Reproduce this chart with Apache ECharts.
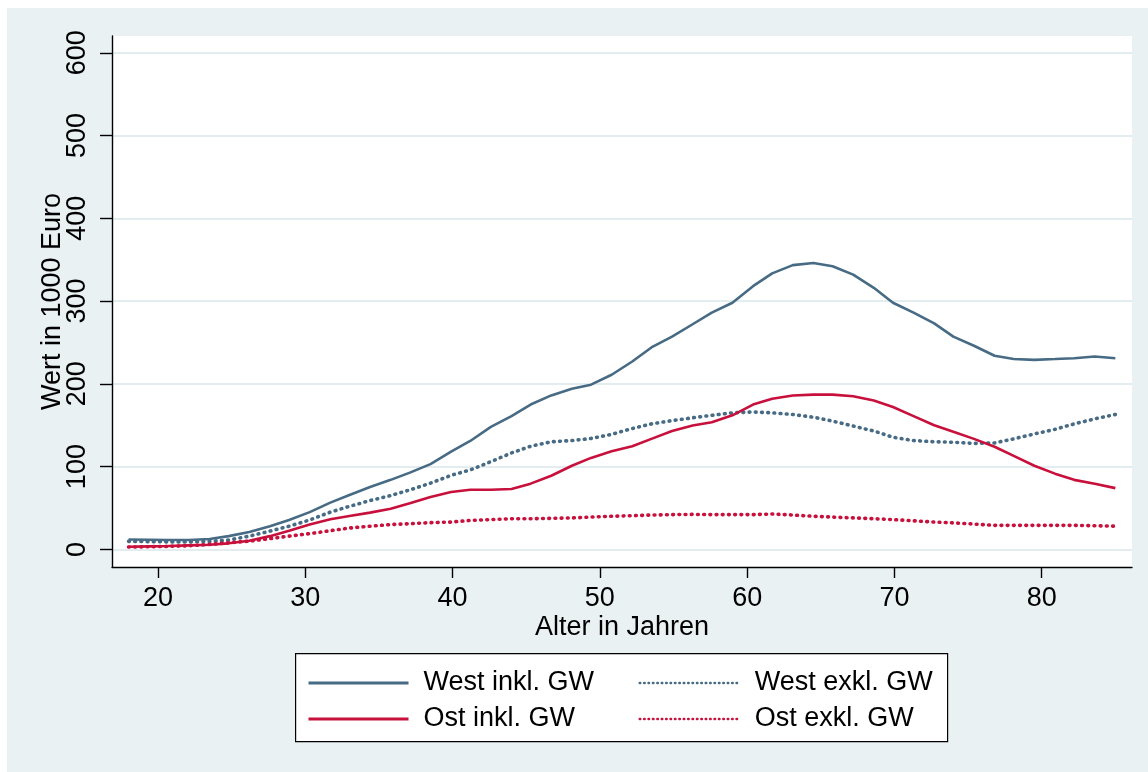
<!DOCTYPE html>
<html>
<head>
<meta charset="utf-8">
<script src="https://cdn.jsdelivr.net/npm/echarts@6/dist/echarts.min.js"></script>
<style>
html,body{margin:0;padding:0;background:#ffffff;}
#chart{width:1148px;height:772px;}
</style>
</head>
<body>
<div id="chart"></div>
<script>
// ---- data ----
const ages = [18, 19.4, 20.7, 22.1, 23.5, 24.8, 26.2, 27.6, 28.9, 30.3, 31.7, 33.0, 34.4, 35.8, 37.1, 38.5, 39.9,
  41.2, 42.6, 44.0, 45.3, 46.7, 48.1, 49.4, 50.8, 52.2, 53.5, 54.9, 56.3, 57.6, 59.0, 60.4, 61.7, 63.1,
  64.5, 65.8, 67.2, 68.6, 69.9, 71.3, 72.7, 74.0, 75.4, 76.8, 78.1, 79.5, 80.9, 82.2, 83.6, 85.0];
const westInkl = [12, 11.7, 11.3, 11.3, 12.5, 16, 21, 28, 35.5, 45, 56.5, 65.7, 75.4, 84, 92.7, 103, 118,
  131, 148, 161, 175, 186, 194, 199, 211, 227, 244, 257, 272, 286, 298, 318, 333.5, 343.5,
  346, 342, 332, 316, 298, 286, 273, 257, 246, 234, 230, 229, 230, 231, 233, 231];
const westExkl = [9.7, 9.3, 9, 9, 9.7, 11.3, 16, 22, 28, 35.5, 45, 52, 59, 65, 71.8, 80, 89.5,
  96, 106, 116.5, 124.6, 130, 131.5, 134, 139, 146, 151.6, 155.6, 159, 162, 165, 166, 165, 163,
  159.7, 155, 149, 143, 135.5, 131.5, 130, 129.4, 128, 128.6, 133.5, 139.5, 145, 151.6, 157.7, 163];
const ostInkl = [3.2, 3.6, 4, 4.8, 5.6, 7.3, 10.5, 16, 22.6, 30, 36.3, 40.3, 44.4, 49, 55.6, 63.3, 69.4,
  72, 72, 73, 79.4, 89, 101, 110.5, 118.5, 124.6, 133.5, 143, 149.6, 153.6, 162, 175, 182, 186,
  187, 187, 185, 180, 172, 161, 150, 142, 133.5, 124, 113, 101, 91.5, 84, 79.4, 74];
const ostExkl = [2.8, 3.2, 3.6, 4.4, 6, 8, 10, 13, 16, 19, 22.6, 25.8, 28, 30, 31, 32.3, 33,
  35, 36, 37, 37, 37.5, 38, 39, 40, 40.7, 41.5, 42, 42.3, 42, 42, 42, 42.7, 41.5,
  40, 39, 38, 37, 36, 34.5, 33, 32, 30.6, 29, 29, 29, 29, 29, 28.6, 28];
const xTicks = [20, 30, 40, 50, 60, 70, 80];
const yTicks = [0, 100, 200, 300, 400, 500, 600];
const seriesNames = ['West inkl. GW', 'West exkl. GW', 'Ost inkl. GW', 'Ost exkl. GW'];

// ---- styling ----
const BLUE = '#476b84';
const RED = '#c8103c';
const FONT = "'Liberation Sans', Arial, sans-serif";
const FS = 27;
const pair = (ys) => ages.map((a, i) => [a, ys[i]]);
const solid = (c) => ({ color: c, width: 2.6, type: 'solid' });
const dotted = (c) => ({ color: c, width: 3.6, type: [0.8, 5.4], cap: 'round' });

const chart = echarts.init(document.getElementById('chart'), null, { renderer: 'canvas' });

const legendCommon = {
  left: 302,
  orient: 'horizontal',
  itemWidth: 100,
  itemHeight: 14,
  itemGap: 11,
  selectedMode: false,
  textStyle: { fontFamily: FONT, fontSize: FS, color: '#000', width: 204, padding: [0, 0, 0, 10], lineHeight: 30 }
};
const legSolid = { lineStyle: { width: 3, type: 'solid' }, itemStyle: { opacity: 0 } };
const legDot = { lineStyle: { width: 2.4, type: [0.6, 3.8], cap: 'round' }, itemStyle: { opacity: 0 } };

const option = {
  backgroundColor: '#ffffff',
  animation: false,
  graphic: [
    { type: 'rect', left: 7, top: 8, shape: { width: 1141, height: 764 }, style: { fill: '#e9f1f3' }, z: -10, silent: true },
    { type: 'rect', left: 295, top: 653, shape: { width: 652, height: 88 }, style: { fill: '#ffffff', stroke: '#000', lineWidth: 1.2 }, z: 0, silent: true }
  ],
  grid: { left: 112, top: 36, right: 16, bottom: 205, show: true, backgroundColor: '#ffffff', borderWidth: 0 },
  legend: [
    Object.assign({}, legendCommon, { top: 663, data: [
      Object.assign({ name: seriesNames[0] }, legSolid),
      Object.assign({ name: seriesNames[1] }, legDot)
    ] }),
    Object.assign({}, legendCommon, { top: 699, data: [
      Object.assign({ name: seriesNames[2] }, legSolid),
      Object.assign({ name: seriesNames[3] }, legDot)
    ] })
  ],
  xAxis: {
    type: 'value', min: 16.877, max: 86.13,
    name: 'Alter in Jahren', nameLocation: 'middle', nameGap: 47, nameMoveOverlap: false,
    nameTextStyle: { fontFamily: FONT, fontSize: FS, color: '#000' },
    axisLine: { show: true, onZero: false, lineStyle: { color: '#000', width: 1.4 } },
    axisTick: { show: true, length: 11, customValues: xTicks, lineStyle: { color: '#000', width: 1.4 } },
    axisLabel: { customValues: xTicks, margin: 18, fontFamily: FONT, fontSize: FS, color: '#000' },
    splitLine: { show: false }
  },
  yAxis: {
    type: 'value', min: -21.3, max: 620.3,
    name: 'Wert in 1000 Euro', nameLocation: 'middle', nameGap: 46, nameMoveOverlap: false,
    nameTextStyle: { fontFamily: FONT, fontSize: FS, color: '#000' },
    axisLine: { show: true, onZero: false, lineStyle: { color: '#000', width: 1.4 } },
    axisTick: { show: true, length: 12, customValues: yTicks, lineStyle: { color: '#000', width: 1.4 } },
    axisLabel: { customValues: yTicks, rotate: 90, margin: 21, fontFamily: FONT, fontSize: FS, color: '#000' },
    splitLine: { show: true, lineStyle: { color: '#e3edf0', width: 1.8 } }
  },
  series: [
    { name: seriesNames[0], type: 'line', data: pair(westInkl), symbol: 'none', lineStyle: solid(BLUE), itemStyle: { color: BLUE }, z: 4 },
    { name: seriesNames[1], type: 'line', data: pair(westExkl), symbol: 'none', lineStyle: dotted(BLUE), itemStyle: { color: BLUE }, z: 3 },
    { name: seriesNames[2], type: 'line', data: pair(ostInkl), symbol: 'none', lineStyle: solid(RED), itemStyle: { color: RED }, z: 4 },
    { name: seriesNames[3], type: 'line', data: pair(ostExkl), symbol: 'none', lineStyle: dotted(RED), itemStyle: { color: RED }, z: 3 }
  ]
};
chart.setOption(option);
</script>
</body>
</html>
